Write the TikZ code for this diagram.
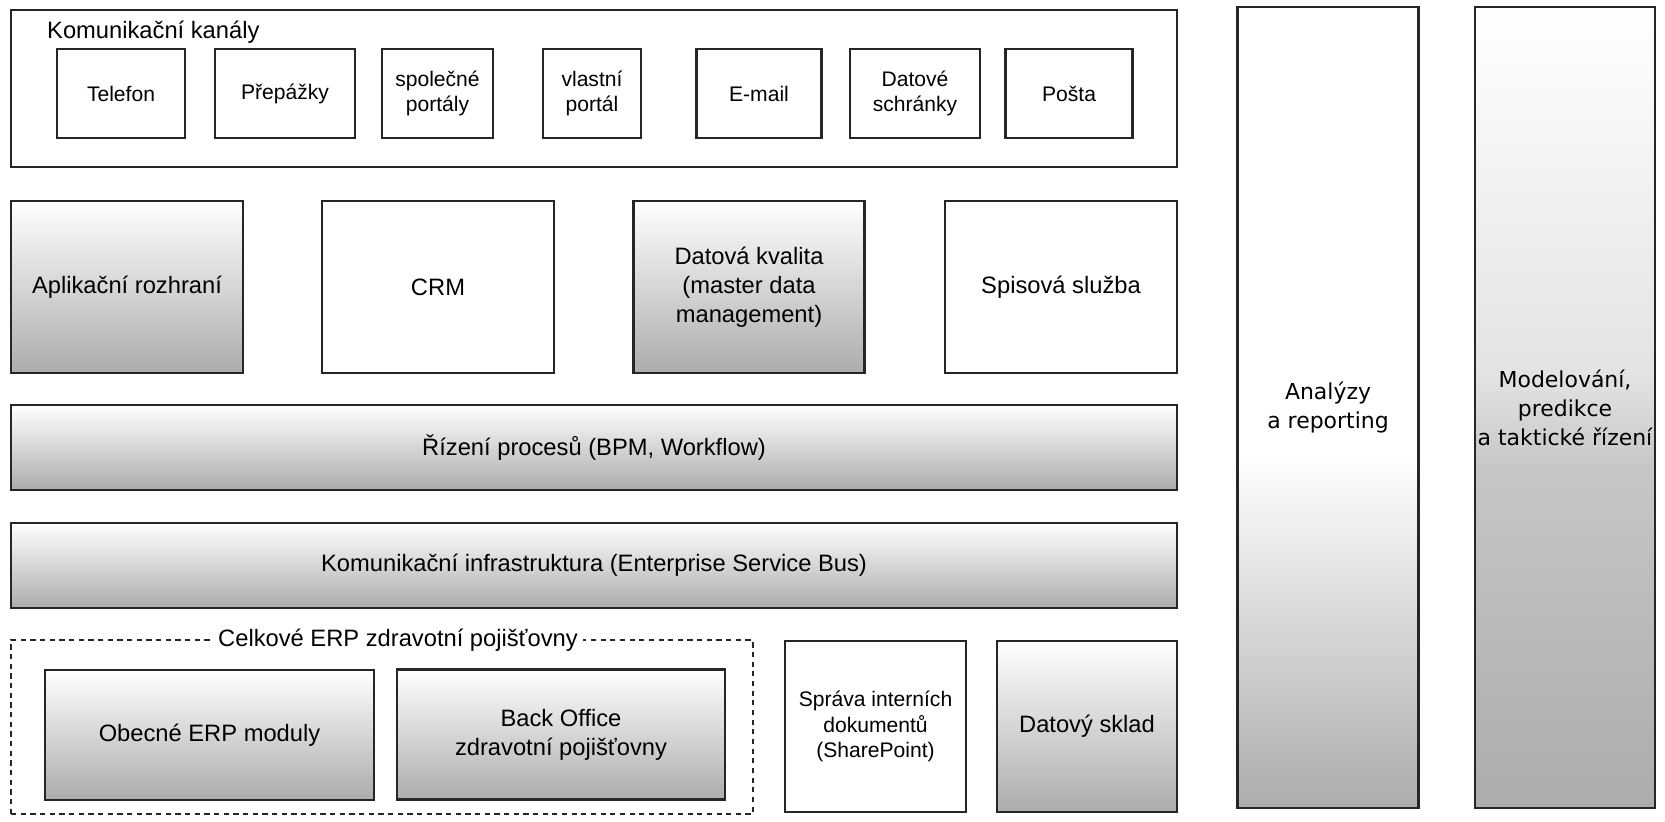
\documentclass[tikz,border=0pt]{standalone}
\usepackage{fontspec}
\setmainfont{Liberation Sans}
\newfontfamily\widefont{DejaVu Sans}
\usepackage{tikz}

\pgfdeclareverticalshading{colana}{100bp}{color(0bp)=(gray!65); color(25bp)=(gray!65); color(47bp)=(white); color(75bp)=(white); color(100bp)=(white)}
\pgfdeclareverticalshading{colmod}{100bp}{color(0bp)=(gray!65); color(25bp)=(gray!65); color(46bp)=(gray!45); color(52bp)=(gray!22); color(75bp)=(white); color(100bp)=(white)}

\begin{document}
\begin{tikzpicture}[x=0.02cm, y=-0.02cm,
  box/.style={draw=black!85, line width=1.5pt, inner sep=0pt, align=center, font=\fontsize{13.5}{16.5}\selectfont},
  chan/.style={box, minimum width=#1cm, minimum height=1.78cm, font=\fontsize{12}{14.5}\selectfont},
  grad/.style={top color=white, bottom color=gray!65},
  big/.style={box, minimum width=4.64cm, minimum height=3.44cm},
  bar/.style={box, grad, minimum width=23.32cm, minimum height=1.7cm},
  column/.style={box, shade, shading=#1, minimum width=3.62cm, minimum height=16.02cm, font=\widefont\fontsize{12.5}{16.5}\selectfont}]
\useasboundingbox (0,0) rectangle (1665,821);

\node[box, minimum width=23.32cm, minimum height=3.14cm] (kanaly) at (594,88.5) {};
\node[anchor=base west, font=\fontsize{13.5}{16}\selectfont] (kanalytitle) at (41,39) {Komunikační kanály};

\node[chan=2.56] (telefon) at (121,93.5) {Telefon};
\node[chan=2.8] (prepazky) at (285,93.5) {Přepážky};
\node[chan=2.22] (spolecne) at (437.5,93.5) {společné\\portály};
\node[chan=1.96] (vlastni) at (592,93.5) {vlastní\\portál};
\node[chan=2.5] (email) at (759,93.5) {E-mail};
\node[chan=2.6] (datove) at (915,93.5) {Datové\\schránky};
\node[chan=2.54] (posta) at (1069,93.5) {Pošta};

\node[big, grad] (aplikacni) at (127,287) {Aplikační rozhraní};
\node[big] (crm) at (438,287) {CRM};
\node[big, grad, minimum width=4.62cm] (kvalita) at (749,287) {Datová kvalita\\(master data\\management)};
\node[big] (spisova) at (1061,287) {Spisová služba};

\node[bar] (procesy) at (594,447.5) {Řízení procesů (BPM, Workflow)};
\node[bar] (esb) at (594,565.5) {Komunikační infrastruktura (Enterprise Service Bus)};

\node[draw=black!85, line width=1.2pt, dash pattern=on 3pt off 2.5pt, minimum width=14.84cm, minimum height=3.48cm] (erp) at (382,727) {};
\node[fill=white, inner sep=3pt, font=\fontsize{13.5}{16}\selectfont] (erptitle) at (398,640) {Celkové ERP zdravotní pojišťovny};
\node[box, grad, minimum width=6.58cm, minimum height=2.6cm] (obecne) at (209.5,735) {Obecné ERP moduly};
\node[box, grad, minimum width=6.56cm, minimum height=2.6cm] (backoffice) at (561,734.5) {Back Office\\zdravotní pojišťovny};

\node[box, minimum width=3.62cm, minimum height=3.42cm, font=\fontsize{12}{14.5}\selectfont] (sprava) at (875.5,726.5) {Správa interních\\dokumentů\\(SharePoint)};
\node[box, grad, minimum width=3.6cm, minimum height=3.42cm] (sklad) at (1087,726.5) {Datový sklad};

\node[column=colana] (analyzy) at (1328,407.5) {Analýzy\\a reporting};
\node[column=colmod, minimum width=3.6cm] (modelovani) at (1565,407.5) {Modelování,\\predikce\\a taktické řízení};
\end{tikzpicture}
\end{document}
